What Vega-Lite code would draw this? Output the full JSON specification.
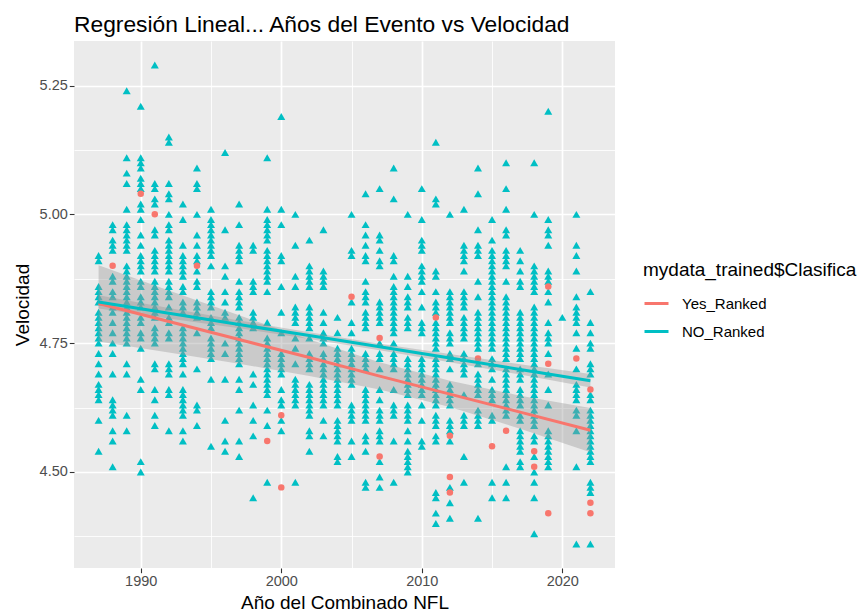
{
"$schema": "https://vega.github.io/schema/vega-lite/v6.json",
"width": 541,
"height": 527,
"autosize": {"type": "none"},
"padding": {"left": 74, "top": 41, "right": 245, "bottom": 47},
"background": "white",
"title": {"text": "Regresión Lineal... Años del Evento vs Velocidad", "anchor": "start", "frame": "group", "fontSize": 22.8, "fontWeight": "normal", "font": "Liberation Sans", "color": "black", "baseline": "alphabetic", "offset": 10, "dy": 24},
"config": {
 "view": {"stroke": null, "fill": "#EBEBEB"},
 "font": "Liberation Sans"
},
"layer": [
 {
  "data": {"values": "a,v\n1987,4.92\n1987,4.91\n1987,4.86\n1987,4.85\n1987,4.84\n1987,4.83\n1987,4.81\n1987,4.80\n1987,4.79\n1987,4.78\n1987,4.77\n1987,4.76\n1987,4.75\n1987,4.73\n1987,4.71\n1987,4.69\n1987,4.67\n1987,4.66\n1987,4.65\n1987,4.64\n1987,4.60\n1987,4.54\n1988,4.98\n1988,4.97\n1988,4.95\n1988,4.94\n1988,4.93\n1988,4.88\n1988,4.87\n1988,4.85\n1988,4.84\n1988,4.82\n1988,4.81\n1988,4.79\n1988,4.77\n1988,4.75\n1988,4.73\n1988,4.69\n1988,4.64\n1988,4.63\n1988,4.62\n1988,4.61\n1988,4.58\n1988,4.56\n1988,4.51\n1989,5.24\n1989,5.11\n1989,5.08\n1989,5.06\n1989,5.01\n1989,4.98\n1989,4.97\n1989,4.96\n1989,4.95\n1989,4.94\n1989,4.93\n1989,4.90\n1989,4.89\n1989,4.88\n1989,4.87\n1989,4.86\n1989,4.85\n1989,4.84\n1989,4.83\n1989,4.82\n1989,4.81\n1989,4.80\n1989,4.79\n1989,4.78\n1989,4.77\n1989,4.76\n1989,4.75\n1989,4.71\n1989,4.69\n1989,4.61\n1989,4.58\n1990,5.21\n1990,5.11\n1990,5.10\n1990,5.09\n1990,5.07\n1990,5.06\n1990,5.05\n1990,5.02\n1990,5.01\n1990,4.99\n1990,4.96\n1990,4.94\n1990,4.92\n1990,4.91\n1990,4.90\n1990,4.89\n1990,4.87\n1990,4.86\n1990,4.84\n1990,4.83\n1990,4.82\n1990,4.80\n1990,4.79\n1990,4.77\n1990,4.76\n1990,4.74\n1990,4.68\n1990,4.66\n1990,4.52\n1990,4.50\n1991,5.29\n1991,5.06\n1991,5.05\n1991,5.03\n1991,5.02\n1991,4.97\n1991,4.96\n1991,4.93\n1991,4.92\n1991,4.91\n1991,4.90\n1991,4.89\n1991,4.87\n1991,4.86\n1991,4.85\n1991,4.84\n1991,4.83\n1991,4.82\n1991,4.81\n1991,4.80\n1991,4.78\n1991,4.77\n1991,4.76\n1991,4.75\n1991,4.71\n1991,4.70\n1991,4.66\n1991,4.64\n1991,4.61\n1991,4.59\n1992,5.15\n1992,5.14\n1992,5.06\n1992,5.04\n1992,5.03\n1992,5.00\n1992,4.98\n1992,4.97\n1992,4.95\n1992,4.94\n1992,4.93\n1992,4.92\n1992,4.91\n1992,4.90\n1992,4.89\n1992,4.87\n1992,4.86\n1992,4.85\n1992,4.84\n1992,4.82\n1992,4.80\n1992,4.79\n1992,4.77\n1992,4.76\n1992,4.71\n1992,4.70\n1992,4.69\n1992,4.66\n1992,4.65\n1992,4.58\n1993,5.02\n1993,4.99\n1993,4.94\n1993,4.92\n1993,4.91\n1993,4.90\n1993,4.89\n1993,4.88\n1993,4.86\n1993,4.85\n1993,4.83\n1993,4.82\n1993,4.81\n1993,4.78\n1993,4.77\n1993,4.76\n1993,4.75\n1993,4.74\n1993,4.73\n1993,4.72\n1993,4.71\n1993,4.69\n1993,4.66\n1993,4.65\n1993,4.64\n1993,4.63\n1993,4.62\n1993,4.61\n1993,4.58\n1993,4.56\n1994,5.09\n1994,5.06\n1994,5.05\n1994,5.00\n1994,4.96\n1994,4.94\n1994,4.92\n1994,4.91\n1994,4.89\n1994,4.87\n1994,4.86\n1994,4.83\n1994,4.82\n1994,4.81\n1994,4.80\n1994,4.77\n1994,4.70\n1994,4.63\n1994,4.62\n1994,4.59\n1995,5.01\n1995,4.99\n1995,4.98\n1995,4.97\n1995,4.96\n1995,4.95\n1995,4.94\n1995,4.93\n1995,4.92\n1995,4.90\n1995,4.85\n1995,4.84\n1995,4.83\n1995,4.82\n1995,4.80\n1995,4.79\n1995,4.78\n1995,4.76\n1995,4.75\n1995,4.74\n1995,4.73\n1995,4.72\n1995,4.68\n1995,4.55\n1996,5.12\n1996,4.97\n1996,4.90\n1996,4.88\n1996,4.85\n1996,4.83\n1996,4.81\n1996,4.80\n1996,4.75\n1996,4.73\n1996,4.68\n1996,4.60\n1996,4.56\n1996,4.54\n1997,5.02\n1997,4.98\n1997,4.94\n1997,4.93\n1997,4.92\n1997,4.91\n1997,4.87\n1997,4.85\n1997,4.84\n1997,4.83\n1997,4.82\n1997,4.80\n1997,4.79\n1997,4.78\n1997,4.77\n1997,4.76\n1997,4.75\n1997,4.74\n1997,4.73\n1997,4.72\n1997,4.71\n1997,4.68\n1997,4.66\n1997,4.62\n1997,4.56\n1997,4.53\n1998,4.94\n1998,4.93\n1998,4.87\n1998,4.86\n1998,4.85\n1998,4.81\n1998,4.80\n1998,4.79\n1998,4.78\n1998,4.69\n1998,4.67\n1998,4.63\n1998,4.60\n1998,4.57\n1998,4.45\n1999,5.11\n1999,5.01\n1999,4.99\n1999,4.98\n1999,4.97\n1999,4.96\n1999,4.95\n1999,4.93\n1999,4.92\n1999,4.91\n1999,4.90\n1999,4.89\n1999,4.88\n1999,4.87\n1999,4.85\n1999,4.79\n1999,4.76\n1999,4.75\n1999,4.74\n1999,4.73\n1999,4.72\n1999,4.71\n1999,4.70\n1999,4.69\n1999,4.68\n1999,4.67\n1999,4.66\n1999,4.65\n1999,4.62\n1999,4.59\n1999,4.48\n2000,5.19\n2000,5.01\n2000,4.98\n2000,4.92\n2000,4.91\n2000,4.86\n2000,4.81\n2000,4.77\n2000,4.73\n2000,4.72\n2000,4.71\n2000,4.70\n2000,4.69\n2000,4.66\n2000,4.64\n2000,4.63\n2000,4.60\n2000,4.58\n2001,5.00\n2001,4.94\n2001,4.88\n2001,4.86\n2001,4.82\n2001,4.81\n2001,4.80\n2001,4.79\n2001,4.76\n2001,4.74\n2001,4.71\n2001,4.68\n2001,4.67\n2001,4.66\n2001,4.65\n2001,4.64\n2001,4.63\n2001,4.48\n2002,4.95\n2002,4.90\n2002,4.89\n2002,4.88\n2002,4.87\n2002,4.86\n2002,4.82\n2002,4.81\n2002,4.80\n2002,4.79\n2002,4.78\n2002,4.76\n2002,4.73\n2002,4.72\n2002,4.71\n2002,4.70\n2002,4.67\n2002,4.66\n2002,4.65\n2002,4.64\n2002,4.63\n2002,4.62\n2002,4.61\n2002,4.58\n2002,4.57\n2002,4.54\n2003,4.97\n2003,4.89\n2003,4.88\n2003,4.87\n2003,4.86\n2003,4.81\n2003,4.79\n2003,4.77\n2003,4.76\n2003,4.75\n2003,4.73\n2003,4.72\n2003,4.71\n2003,4.70\n2003,4.69\n2003,4.68\n2003,4.67\n2003,4.66\n2003,4.65\n2003,4.64\n2003,4.63\n2003,4.60\n2003,4.57\n2004,4.80\n2004,4.77\n2004,4.74\n2004,4.73\n2004,4.72\n2004,4.71\n2004,4.70\n2004,4.69\n2004,4.68\n2004,4.67\n2004,4.66\n2004,4.65\n2004,4.64\n2004,4.63\n2004,4.60\n2004,4.59\n2004,4.58\n2004,4.57\n2004,4.56\n2004,4.53\n2004,4.52\n2005,5.00\n2005,4.93\n2005,4.92\n2005,4.83\n2005,4.79\n2005,4.77\n2005,4.74\n2005,4.73\n2005,4.72\n2005,4.71\n2005,4.70\n2005,4.69\n2005,4.68\n2005,4.67\n2005,4.63\n2005,4.62\n2005,4.61\n2005,4.60\n2005,4.56\n2005,4.53\n2006,5.04\n2006,4.98\n2006,4.96\n2006,4.94\n2006,4.92\n2006,4.91\n2006,4.87\n2006,4.85\n2006,4.84\n2006,4.83\n2006,4.81\n2006,4.80\n2006,4.79\n2006,4.78\n2006,4.73\n2006,4.72\n2006,4.71\n2006,4.70\n2006,4.66\n2006,4.65\n2006,4.64\n2006,4.63\n2006,4.62\n2006,4.61\n2006,4.60\n2006,4.57\n2006,4.56\n2006,4.54\n2006,4.48\n2006,4.47\n2007,5.05\n2007,4.96\n2007,4.95\n2007,4.93\n2007,4.91\n2007,4.90\n2007,4.83\n2007,4.82\n2007,4.81\n2007,4.80\n2007,4.79\n2007,4.75\n2007,4.73\n2007,4.72\n2007,4.70\n2007,4.66\n2007,4.64\n2007,4.62\n2007,4.61\n2007,4.60\n2007,4.58\n2007,4.57\n2007,4.56\n2007,4.52\n2007,4.49\n2007,4.47\n2008,5.09\n2008,5.03\n2008,4.92\n2008,4.91\n2008,4.88\n2008,4.86\n2008,4.85\n2008,4.84\n2008,4.83\n2008,4.82\n2008,4.81\n2008,4.80\n2008,4.79\n2008,4.78\n2008,4.77\n2008,4.75\n2008,4.73\n2008,4.72\n2008,4.71\n2008,4.70\n2008,4.66\n2008,4.63\n2008,4.62\n2008,4.61\n2008,4.56\n2008,4.48\n2009,5.00\n2009,4.88\n2009,4.86\n2009,4.84\n2009,4.83\n2009,4.82\n2009,4.80\n2009,4.79\n2009,4.78\n2009,4.72\n2009,4.71\n2009,4.70\n2009,4.69\n2009,4.68\n2009,4.67\n2009,4.66\n2009,4.65\n2009,4.63\n2009,4.62\n2009,4.61\n2009,4.60\n2009,4.58\n2009,4.56\n2009,4.54\n2009,4.53\n2009,4.52\n2009,4.51\n2009,4.50\n2010,5.05\n2010,4.99\n2010,4.95\n2010,4.94\n2010,4.93\n2010,4.90\n2010,4.89\n2010,4.88\n2010,4.87\n2010,4.85\n2010,4.82\n2010,4.79\n2010,4.78\n2010,4.77\n2010,4.72\n2010,4.71\n2010,4.70\n2010,4.69\n2010,4.68\n2010,4.67\n2010,4.66\n2010,4.65\n2010,4.63\n2010,4.60\n2010,4.56\n2010,4.55\n2011,5.14\n2011,5.03\n2011,5.02\n2011,4.89\n2011,4.88\n2011,4.85\n2011,4.83\n2011,4.82\n2011,4.81\n2011,4.79\n2011,4.78\n2011,4.77\n2011,4.76\n2011,4.75\n2011,4.74\n2011,4.72\n2011,4.71\n2011,4.70\n2011,4.69\n2011,4.68\n2011,4.67\n2011,4.66\n2011,4.65\n2011,4.64\n2011,4.63\n2011,4.61\n2011,4.60\n2011,4.59\n2011,4.57\n2011,4.56\n2011,4.46\n2011,4.45\n2011,4.42\n2011,4.40\n2012,5.00\n2012,4.85\n2012,4.84\n2012,4.83\n2012,4.82\n2012,4.81\n2012,4.80\n2012,4.79\n2012,4.77\n2012,4.76\n2012,4.75\n2012,4.73\n2012,4.72\n2012,4.70\n2012,4.67\n2012,4.66\n2012,4.65\n2012,4.64\n2012,4.63\n2012,4.60\n2012,4.59\n2012,4.58\n2012,4.56\n2012,4.47\n2012,4.44\n2012,4.41\n2013,5.01\n2013,4.94\n2013,4.93\n2013,4.92\n2013,4.91\n2013,4.89\n2013,4.85\n2013,4.84\n2013,4.83\n2013,4.82\n2013,4.80\n2013,4.79\n2013,4.78\n2013,4.77\n2013,4.76\n2013,4.73\n2013,4.72\n2013,4.71\n2013,4.70\n2013,4.69\n2013,4.65\n2013,4.61\n2013,4.60\n2013,4.59\n2013,4.53\n2013,4.48\n2014,5.09\n2014,5.04\n2014,4.97\n2014,4.94\n2014,4.93\n2014,4.92\n2014,4.87\n2014,4.84\n2014,4.81\n2014,4.80\n2014,4.79\n2014,4.78\n2014,4.77\n2014,4.76\n2014,4.75\n2014,4.74\n2014,4.71\n2014,4.69\n2014,4.68\n2014,4.67\n2014,4.66\n2014,4.65\n2014,4.62\n2014,4.61\n2014,4.60\n2014,4.59\n2014,4.41\n2015,4.99\n2015,4.95\n2015,4.93\n2015,4.92\n2015,4.91\n2015,4.90\n2015,4.89\n2015,4.88\n2015,4.87\n2015,4.86\n2015,4.85\n2015,4.84\n2015,4.83\n2015,4.82\n2015,4.81\n2015,4.80\n2015,4.79\n2015,4.78\n2015,4.77\n2015,4.76\n2015,4.75\n2015,4.74\n2015,4.72\n2015,4.71\n2015,4.70\n2015,4.68\n2015,4.66\n2015,4.65\n2015,4.64\n2015,4.61\n2015,4.60\n2015,4.48\n2015,4.45\n2016,5.10\n2016,5.05\n2016,5.01\n2016,4.97\n2016,4.96\n2016,4.93\n2016,4.92\n2016,4.91\n2016,4.90\n2016,4.87\n2016,4.84\n2016,4.83\n2016,4.82\n2016,4.81\n2016,4.80\n2016,4.79\n2016,4.78\n2016,4.77\n2016,4.76\n2016,4.75\n2016,4.74\n2016,4.73\n2016,4.72\n2016,4.70\n2016,4.69\n2016,4.68\n2016,4.67\n2016,4.66\n2016,4.65\n2016,4.64\n2016,4.63\n2016,4.62\n2016,4.61\n2016,4.51\n2016,4.48\n2016,4.45\n2017,4.93\n2017,4.91\n2017,4.89\n2017,4.87\n2017,4.86\n2017,4.81\n2017,4.80\n2017,4.79\n2017,4.78\n2017,4.77\n2017,4.76\n2017,4.75\n2017,4.74\n2017,4.73\n2017,4.72\n2017,4.70\n2017,4.69\n2017,4.68\n2017,4.66\n2017,4.65\n2017,4.64\n2017,4.63\n2017,4.61\n2017,4.60\n2017,4.58\n2017,4.57\n2017,4.56\n2017,4.55\n2017,4.54\n2017,4.52\n2017,4.51\n2018,5.10\n2018,5.00\n2018,4.90\n2018,4.89\n2018,4.88\n2018,4.87\n2018,4.86\n2018,4.85\n2018,4.82\n2018,4.81\n2018,4.80\n2018,4.79\n2018,4.78\n2018,4.77\n2018,4.76\n2018,4.75\n2018,4.74\n2018,4.73\n2018,4.72\n2018,4.71\n2018,4.70\n2018,4.69\n2018,4.68\n2018,4.67\n2018,4.66\n2018,4.65\n2018,4.64\n2018,4.63\n2018,4.62\n2018,4.61\n2018,4.60\n2018,4.59\n2018,4.57\n2018,4.56\n2018,4.53\n2018,4.50\n2018,4.48\n2018,4.45\n2018,4.38\n2019,5.20\n2019,4.99\n2019,4.97\n2019,4.96\n2019,4.94\n2019,4.89\n2019,4.88\n2019,4.87\n2019,4.85\n2019,4.83\n2019,4.79\n2019,4.77\n2019,4.76\n2019,4.75\n2019,4.73\n2019,4.69\n2019,4.66\n2019,4.63\n2019,4.58\n2019,4.57\n2019,4.56\n2019,4.55\n2019,4.54\n2019,4.53\n2019,4.52\n2019,4.51\n2020,4.80\n2021,5.00\n2021,4.94\n2021,4.92\n2021,4.89\n2021,4.84\n2021,4.82\n2021,4.81\n2021,4.80\n2021,4.79\n2021,4.77\n2021,4.74\n2021,4.70\n2021,4.67\n2021,4.66\n2021,4.65\n2021,4.64\n2021,4.62\n2021,4.61\n2021,4.58\n2021,4.51\n2021,4.36\n2022,4.85\n2022,4.79\n2022,4.77\n2022,4.75\n2022,4.74\n2022,4.71\n2022,4.70\n2022,4.69\n2022,4.65\n2022,4.64\n2022,4.62\n2022,4.61\n2022,4.60\n2022,4.59\n2022,4.58\n2022,4.57\n2022,4.56\n2022,4.55\n2022,4.54\n2022,4.53\n2022,4.52\n2022,4.48\n2022,4.47\n2022,4.46\n2022,4.36", "format": {"type": "csv", "parse": {"a": "number", "v": "number"}}},
  "mark": {"type": "point", "shape": "triangle-up", "filled": true, "size": 64, "opacity": 1, "color": "#00BFC4"},
  "encoding": {
   "x": {"field": "a", "type": "quantitative", "title": "Año del Combinado NFL",
    "scale": {"domain": [1985.25, 2023.75], "nice": false, "zero": false},
    "axis": {
     "values": [1990, 1995, 2000, 2005, 2010, 2015, 2020],
     "labelExpr": "datum.value % 10 == 0 ? format(datum.value, 'd') : ''",
     "grid": true, "gridColor": "white",
     "gridWidth": {"condition": {"test": "datum.value % 10 == 0", "value": 1.7}, "value": 0.85},
     "tickOpacity": {"condition": {"test": "datum.value % 10 == 0", "value": 1}, "value": 0},
     "tickColor": "#333333", "tickSize": 4.7, "tickWidth": 1.1,
     "domain": false,
     "labelFontSize": 14.5, "labelColor": "#4D4D4D", "labelPadding": 2,
     "titleFontSize": 19, "titleColor": "black", "titleFontWeight": "normal", "titlePadding": 5
    }},
   "y": {"field": "v", "type": "quantitative", "title": "Velocidad",
    "scale": {"domain": [4.3135, 5.3365], "nice": false, "zero": false},
    "axis": {
     "values": [4.375, 4.5, 4.625, 4.75, 4.875, 5, 5.125, 5.25],
     "labelExpr": "datum.value * 4 == round(datum.value * 4) ? format(datum.value, '.2f') : ''",
     "grid": true, "gridColor": "white",
     "gridWidth": {"condition": {"test": "datum.value * 4 == round(datum.value * 4)", "value": 1.7}, "value": 0.85},
     "tickOpacity": {"condition": {"test": "datum.value * 4 == round(datum.value * 4)", "value": 1}, "value": 0},
     "tickColor": "#333333", "tickSize": 4.7, "tickWidth": 1.1,
     "domain": false,
     "labelFontSize": 14.5, "labelColor": "#4D4D4D", "labelPadding": 2,
     "titleFontSize": 19, "titleColor": "black", "titleFontWeight": "normal", "titlePadding": 7
    }}
  }
 },
 {
  "data": {"values": "a,v\n1988,4.90\n1990,5.04\n1991,5.00\n1994,4.90\n1999,4.56\n2000,4.61\n2000,4.47\n2005,4.84\n2007,4.76\n2007,4.53\n2011,4.80\n2012,4.57\n2012,4.49\n2012,4.46\n2014,4.72\n2015,4.55\n2016,4.58\n2018,4.54\n2018,4.51\n2019,4.86\n2019,4.71\n2019,4.42\n2021,4.72\n2022,4.66\n2022,4.44\n2022,4.42", "format": {"type": "csv", "parse": {"a": "number", "v": "number"}}},
  "mark": {"type": "circle", "size": 42, "opacity": 1, "color": "#F8766D"},
  "encoding": {
   "x": {"field": "a", "type": "quantitative", "title": "Año del Combinado NFL"},
   "y": {"field": "v", "type": "quantitative", "title": "Velocidad"}
  }
 },
 {
  "data": {"values": [
   {"g": "Yes_Ranked", "a": 1987, "v": 4.827, "lo": 4.753, "hi": 4.901},
   {"g": "Yes_Ranked", "a": 1992, "v": 4.792, "lo": 4.732, "hi": 4.852},
   {"g": "Yes_Ranked", "a": 1997, "v": 4.757, "lo": 4.710, "hi": 4.804},
   {"g": "Yes_Ranked", "a": 2002, "v": 4.722, "lo": 4.686, "hi": 4.757},
   {"g": "Yes_Ranked", "a": 2007, "v": 4.686, "lo": 4.660, "hi": 4.713},
   {"g": "Yes_Ranked", "a": 2012, "v": 4.651, "lo": 4.626, "hi": 4.677},
   {"g": "Yes_Ranked", "a": 2017, "v": 4.616, "lo": 4.584, "hi": 4.648},
   {"g": "Yes_Ranked", "a": 2022, "v": 4.581, "lo": 4.538, "hi": 4.624},
   {"g": "NO_Ranked", "a": 1987, "v": 4.830, "lo": 4.817, "hi": 4.843},
   {"g": "NO_Ranked", "a": 1992, "v": 4.808, "lo": 4.798, "hi": 4.818},
   {"g": "NO_Ranked", "a": 1997, "v": 4.786, "lo": 4.779, "hi": 4.794},
   {"g": "NO_Ranked", "a": 2002, "v": 4.765, "lo": 4.758, "hi": 4.771},
   {"g": "NO_Ranked", "a": 2007, "v": 4.743, "lo": 4.736, "hi": 4.749},
   {"g": "NO_Ranked", "a": 2012, "v": 4.721, "lo": 4.713, "hi": 4.729},
   {"g": "NO_Ranked", "a": 2017, "v": 4.699, "lo": 4.689, "hi": 4.709},
   {"g": "NO_Ranked", "a": 2022, "v": 4.677, "lo": 4.664, "hi": 4.690}
  ]},
  "layer": [
   {
    "mark": {"type": "area", "color": "#999999", "opacity": 0.4},
    "encoding": {
     "x": {"field": "a", "type": "quantitative", "title": "Año del Combinado NFL"},
     "y": {"field": "lo", "type": "quantitative", "title": "Velocidad"},
     "y2": {"field": "hi"},
     "detail": {"field": "g"}
    }
   },
   {
    "mark": {"type": "line", "strokeWidth": 3},
    "encoding": {
     "x": {"field": "a", "type": "quantitative", "title": "Año del Combinado NFL"},
     "y": {"field": "v", "type": "quantitative", "title": "Velocidad"},
     "color": {"field": "g", "type": "nominal",
      "scale": {"domain": ["Yes_Ranked", "NO_Ranked"], "range": ["#F8766D", "#00BFC4"]},
      "legend": {"orient": "none", "legendX": 569, "legendY": 220, "title": "mydata_trained$Clasifica",
       "titleFontSize": 19, "titleFontWeight": "normal", "titleColor": "black", "titlePadding": 10, "titleLimit": 400,
       "labelFontSize": 15, "labelColor": "black", "symbolType": "stroke", "symbolStrokeWidth": 3,
       "symbolSize": 576, "rowPadding": 6, "labelOffset": 12}
     }
    }
   }
  ]
 }
]
}
